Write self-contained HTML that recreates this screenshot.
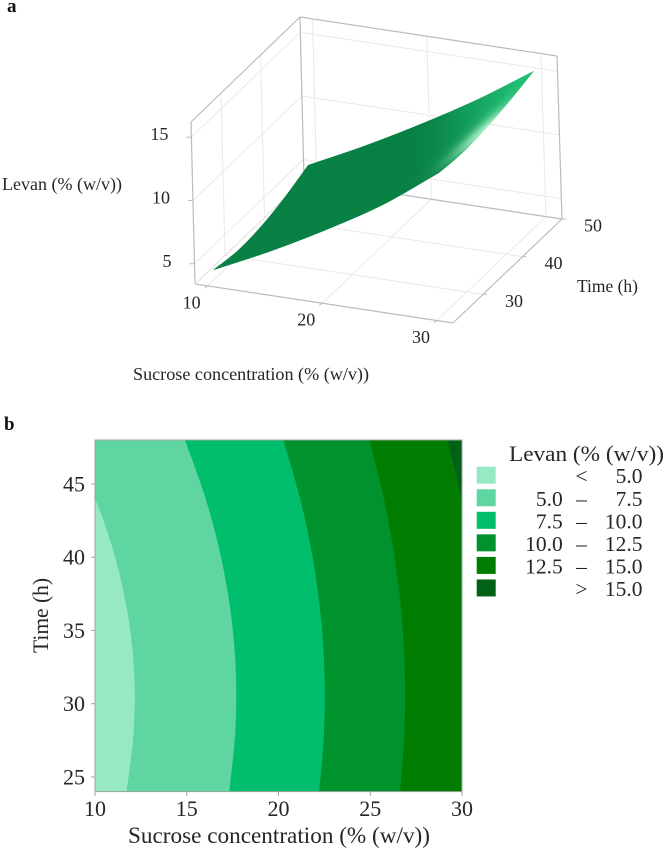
<!DOCTYPE html>
<html lang="en">
<head>
<meta charset="utf-8">
<title>Levan response surface and contour plot</title>
<style>
  html, body { margin: 0; padding: 0; background: #fff; }
  svg { display: block; font-family: "Liberation Serif", serif; fill: #262626; }
</style>
</head>
<body>
<svg id="fig" xmlns="http://www.w3.org/2000/svg" width="666" height="849" viewBox="0 0 666 849">
  <rect x="0" y="0" width="666" height="849" fill="#fff"/>
  <text x="7" y="12" font-size="19" font-weight="bold" fill="#111">a</text>
  <text x="4" y="430" font-size="19" font-weight="bold" fill="#111">b</text>

  <g id="surfacePanel">
    <g id="box3d"></g>
    <g id="mesh3d"></g>
    <g id="ticks3d"></g>
    <text x="2" y="190" font-size="18" textLength="120" lengthAdjust="spacingAndGlyphs">Levan (% (w/v))</text>
    <text x="133" y="380" font-size="18" textLength="236" lengthAdjust="spacingAndGlyphs">Sucrose concentration (% (w/v))</text>
    <text x="577" y="292" font-size="17.5" textLength="61" lengthAdjust="spacingAndGlyphs">Time (h)</text>
  </g>

  <g id="contourPanel">
    <defs><clipPath id="frameClip"><rect x="95" y="440" width="367" height="351.6"/></clipPath></defs>
    <g id="bands" clip-path="url(#frameClip)"></g>
    <rect x="95" y="440" width="367" height="351.6" fill="none" stroke="#9aa59e" stroke-width="1"/>
    <g id="axes2d"></g>
    <text x="128" y="843" font-size="23" textLength="302" lengthAdjust="spacingAndGlyphs">Sucrose concentration (% (w/v))</text>
    <text transform="translate(48,653) rotate(-90)" font-size="22" textLength="75" lengthAdjust="spacingAndGlyphs">Time (h)</text>
  </g>

  <g id="legend">
    <text x="509" y="461" font-size="22.5" textLength="155" lengthAdjust="spacingAndGlyphs">Levan (% (w/v))</text>
  </g>
</svg>

<script>
// ---------- data ----------
// Surface (panel a)
var surfaceSucrose = [10, 15, 20, 25, 30];
var surfaceTime = [24, 30, 36, 42, 48];
var surfaceLevan10 = [4.2, 3.9, 4.05, 4.55, 5.3];
var surfaceLevan15 = [6.35, 6.2, 6.3, 6.75, 7.5];
var surfaceLevan20 = [8.75, 8.6, 8.7, 9.15, 9.9];
var surfaceLevan25 = [11.4, 11.2, 11.35, 11.75, 12.5];
var surfaceLevan30 = [14.6, 14.4, 14.55, 14.9, 15.4];
var surfaceSTicks = [10, 20, 30];
var surfaceTTicks = [30, 40, 50];
var surfaceZTicks = [5, 10, 15];

// Contours (panel b): sucrose value of each boundary at contourTime
var contourTime = [24, 28, 32, 36, 40, 44, 48];
var boundary5 = [11.72, 12.1, 12.14, 11.8, 11.1, 10.0, 8.5];
var boundary7p5 = [17.32, 17.64, 17.68, 17.42, 16.87, 16.03, 14.9];
var boundary10 = [22.22, 22.48, 22.51, 22.3, 21.86, 21.18, 20.26];
var boundary12p5 = [26.63, 26.86, 26.89, 26.71, 26.32, 25.74, 24.95];
var boundary15 = [30.87, 31.09, 31.12, 30.94, 30.56, 29.98, 29.2];
var contourXTicks = [10, 15, 20, 25, 30];
var contourYTicks = [25, 30, 35, 40, 45];

// Legend
var legendLow = ["", "5.0", "7.5", "10.0", "12.5", ""];
var legendSep = ["<", "\u2013", "\u2013", "\u2013", "\u2013", ">"];
var legendHigh = ["5.0", "7.5", "10.0", "12.5", "15.0", "15.0"];

// ---------- helpers ----------
var NS = "http://www.w3.org/2000/svg";
var bandColors = ["#97e9c5", "#5fd6a1", "#00be6c", "#00922c", "#007d00", "#006117"];

function make(tag, parent, attrs, txt) {
  var e = document.createElementNS(NS, tag);
  for (var k in attrs) e.setAttribute(k, attrs[k]);
  if (txt !== undefined) e.textContent = txt;
  parent.appendChild(e);
  return e;
}

// Catmull-Rom value through an array at fractional index u
function cr(a, u) {
  var n = a.length, i = Math.min(Math.max(Math.floor(u), 0), n - 2), f = u - i;
  var p1 = a[i], p2 = a[i + 1];
  var p0 = i > 0 ? a[i - 1] : 2 * p1 - p2;
  var p3 = i < n - 2 ? a[i + 2] : 2 * p2 - p1;
  return 0.5 * (2 * p1 + (p2 - p0) * f + (2 * p0 - 5 * p1 + 4 * p2 - p3) * f * f + (3 * p1 - p0 - 3 * p2 + p3) * f * f * f);
}

// ---------- panel a: box projection ----------
var sDom = [8.9, 31.4], tDom = [22.4, 50], zDom = [3.4, 16.2];
var A = [195, 284], B = [453, 323], C = [562, 219], D = [304, 180];
var At = [191, 122], Bt = [448, 161], Ct = [557, 56], Dt = [300, 17];

function proj(s, t, z) {
  var u = (s - sDom[0]) / (sDom[1] - sDom[0]);
  var v = (t - tDom[0]) / (tDom[1] - tDom[0]);
  var w = (z - zDom[0]) / (zDom[1] - zDom[0]);
  function bl(P, Q, R, S, i) {
    return P[i] * (1 - u) * (1 - v) + Q[i] * u * (1 - v) + R[i] * u * v + S[i] * (1 - u) * v;
  }
  return [
    bl(A, B, C, D, 0) * (1 - w) + bl(At, Bt, Ct, Dt, 0) * w,
    bl(A, B, C, D, 1) * (1 - w) + bl(At, Bt, Ct, Dt, 1) * w
  ];
}

var box = document.getElementById("box3d");
function seg(p, q, color, width, name) {
  var l = make("line", box, { x1: p[0], y1: p[1], x2: q[0], y2: q[1], stroke: color, "stroke-width": width });
  
  
}
var gridC = "#e9e9ee", edgeC = "#b9bcbc";
surfaceZTicks.forEach(function (z) {
  seg(proj(sDom[0], tDom[0], z), proj(sDom[0], tDom[1], z), gridC, 1, "z-gridline-left");
  seg(proj(sDom[0], tDom[1], z), proj(sDom[1], tDom[1], z), gridC, 1, "z-gridline-back");
});
surfaceSTicks.forEach(function (s) {
  seg(proj(s, tDom[1], zDom[0]), proj(s, tDom[1], zDom[1]), gridC, 1, "sucrose-gridline-back");
  seg(proj(s, tDom[0], zDom[0]), proj(s, tDom[1], zDom[0]), gridC, 1, "sucrose-gridline-floor");
});
surfaceTTicks.forEach(function (t) {
  seg(proj(sDom[0], t, zDom[0]), proj(sDom[0], t, zDom[1]), gridC, 1, "time-gridline-left");
  seg(proj(sDom[0], t, zDom[0]), proj(sDom[1], t, zDom[0]), gridC, 1, "time-gridline-floor");
});
seg(A, At, edgeC, 1.2, "box-edge");
seg(D, Dt, edgeC, 1.2, "box-edge");
seg(C, Ct, edgeC, 1.2, "box-edge");
seg(At, Dt, edgeC, 1.2, "box-edge");
seg(Dt, Ct, edgeC, 1.2, "box-edge");
seg(A, B, edgeC, 1.2, "box-edge");
seg(B, C, edgeC, 1.2, "box-edge");
seg(A, D, "#dfe0e0", 1, "box-edge");
seg(D, C, edgeC, 1.2, "box-edge");

// ---------- panel a: surface mesh ----------
var surfaceRows = [surfaceLevan10, surfaceLevan15, surfaceLevan20, surfaceLevan25, surfaceLevan30];
function levanAt(s, t) {
  var us = (s - surfaceSucrose[0]) / (surfaceSucrose[surfaceSucrose.length - 1] - surfaceSucrose[0]) * (surfaceSucrose.length - 1);
  var ut = (t - surfaceTime[0]) / (surfaceTime[surfaceTime.length - 1] - surfaceTime[0]) * (surfaceTime.length - 1);
  var col = surfaceRows.map(function (r) { return cr(r, ut); });
  return cr(col, us);
}
function mix(a, b, f) {
  return [a[0] + (b[0] - a[0]) * f, a[1] + (b[1] - a[1]) * f, a[2] + (b[2] - a[2]) * f];
}
function smooth(a, b, x) {
  var f = Math.min(1, Math.max(0, (x - a) / (b - a)));
  return f * f * (3 - 2 * f);
}
function shade(s, t) {
  var dark = [8, 128, 68], mid = [28, 188, 112], light = [165, 238, 196];
  var q = s + 0.344 * (t - 24);
  var m = smooth(27, 38, q);
  var g = Math.exp(-Math.pow((s - 30.3) / 2.3, 2) - Math.pow((t - 35.5) / 6, 2));
  var c = mix(mix(dark, mid, m), light, g);
  return "rgb(" + Math.round(c[0]) + "," + Math.round(c[1]) + "," + Math.round(c[2]) + ")";
}
var mesh = document.getElementById("mesh3d");
var nS = 40, nT = 48;
var sLo = surfaceSucrose[0], sHi = surfaceSucrose[surfaceSucrose.length - 1];
var tLo = surfaceTime[0], tHi = surfaceTime[surfaceTime.length - 1];
for (var it = nT - 1; it >= 0; it--) {
  for (var is = 0; is < nS; is++) {
    var s0 = sLo + (sHi - sLo) * is / nS, s1 = sLo + (sHi - sLo) * (is + 1) / nS;
    var t0 = tLo + (tHi - tLo) * it / nT, t1 = tLo + (tHi - tLo) * (it + 1) / nT;
    var pts = [[s0, t0], [s1, t0], [s1, t1], [s0, t1]].map(function (q) {
      var p = proj(q[0], q[1], levanAt(q[0], q[1]));
      return p[0].toFixed(2) + "," + p[1].toFixed(2);
    }).join(" ");
    var col = shade((s0 + s1) / 2, (t0 + t1) / 2);
    var poly = make("polygon", mesh, { points: pts, fill: col, stroke: col, "stroke-width": 0.5 });
    
    
  }
}

// ---------- panel a: ticks ----------
var tk = document.getElementById("ticks3d");
function tickMark(p, dx, dy) {
  var l = make("line", tk, { x1: p[0], y1: p[1], x2: p[0] + dx, y2: p[1] + dy, stroke: edgeC, "stroke-width": 1 });
  
  
}
function tickText(x, y, txt, anchor) {
  var e = make("text", tk, { x: x, y: y, "font-size": 18, "text-anchor": anchor }, txt);
  
  
}
surfaceZTicks.forEach(function (z) {
  var p = proj(sDom[0], tDom[0], z);
  tickMark(p, -5, 0);
  tickText(p[0] - 23, p[1] + 3, String(z), "end");
});
surfaceSTicks.forEach(function (s) {
  var p = proj(s, tDom[0], zDom[0]);
  tickMark(p, -3, 2);
  tickText(p[0] - 25, p[1] + 22.5, String(s), "start");
});
surfaceTTicks.forEach(function (t) {
  var p = proj(sDom[1], t, zDom[0]);
  tickMark(p, 4, 0);
  tickText(p[0] + 22, p[1] + 12.5, String(t), "start");
});

// ---------- panel b: contour plot ----------
function xPos(s) { return 95 + (s - 10) * 18.35; }
function yPos(t) { return 791.6 - (t - 24) * 14.65; }

function boundaryPath(vals, rightEdge) {
  var pts = vals.map(function (v, i) { return [xPos(v), yPos(contourTime[i])]; });
  var d = "M" + rightEdge + " " + (pts[0][1] + 30) + " L" + pts[0][0].toFixed(2) + " " + (pts[0][1] + 30) +
    " L" + pts[0][0].toFixed(2) + " " + pts[0][1].toFixed(2);
  for (var i = 0; i < pts.length - 1; i++) {
    var p0 = pts[Math.max(i - 1, 0)], p1 = pts[i], p2 = pts[i + 1], p3 = pts[Math.min(i + 2, pts.length - 1)];
    d += " C" + (p1[0] + (p2[0] - p0[0]) / 6).toFixed(2) + " " + (p1[1] + (p2[1] - p0[1]) / 6).toFixed(2) +
      " " + (p2[0] - (p3[0] - p1[0]) / 6).toFixed(2) + " " + (p2[1] - (p3[1] - p1[1]) / 6).toFixed(2) +
      " " + p2[0].toFixed(2) + " " + p2[1].toFixed(2);
  }
  var last = pts[pts.length - 1];
  d += " L" + last[0].toFixed(2) + " " + (last[1] - 30) + " L" + rightEdge + " " + (last[1] - 30) + " Z";
  return d;
}

var bands = document.getElementById("bands");
var baseBand = make("rect", bands, { x: 90, y: 430, width: 380, height: 370, fill: bandColors[0] });


[boundary5, boundary7p5, boundary10, boundary12p5, boundary15].forEach(function (vals, i) {
  var band = make("path", bands, { d: boundaryPath(vals, 500), fill: bandColors[i + 1] });
  
  
});

var axes = document.getElementById("axes2d");
contourXTicks.forEach(function (v) {
  var x = xPos(v);
  var m = make("line", axes, { x1: x, y1: 791.6, x2: x, y2: 796, stroke: "#9aa59e", "stroke-width": 1 });
  
  
  var l = make("text", axes, { x: x, y: 816, "font-size": 22, "text-anchor": "middle" }, String(v));
  
  
});
contourYTicks.forEach(function (v) {
  var y = yPos(v);
  var m = make("line", axes, { x1: 91, y1: y, x2: 95, y2: y, stroke: "#9aa59e", "stroke-width": 1 });
  
  
  var l = make("text", axes, { x: 85, y: y + 7.5, "font-size": 22, "text-anchor": "end" }, String(v));
  
  
});

// ---------- legend ----------
var lg = document.getElementById("legend");
legendHigh.forEach(function (hi, i) {
  var top = 466.7 + i * 22.55;
  var sw = make("rect", lg, { x: 476.7, y: top, width: 19, height: 17, fill: bandColors[i] });
  
  
  var base = top + 16.5;
  var a = make("text", lg, { x: 562.7, y: base, "font-size": 21.5, "text-anchor": "end" }, legendLow[i]);
  
  
  var b = make("text", lg, { x: 581.5, y: base, "font-size": 21.5, "text-anchor": "middle" }, legendSep[i]);
  
  
  var c = make("text", lg, { x: 642.5, y: base, "font-size": 21.5, "text-anchor": "end" }, hi);
  
  
});
</script>
</body>
</html>
